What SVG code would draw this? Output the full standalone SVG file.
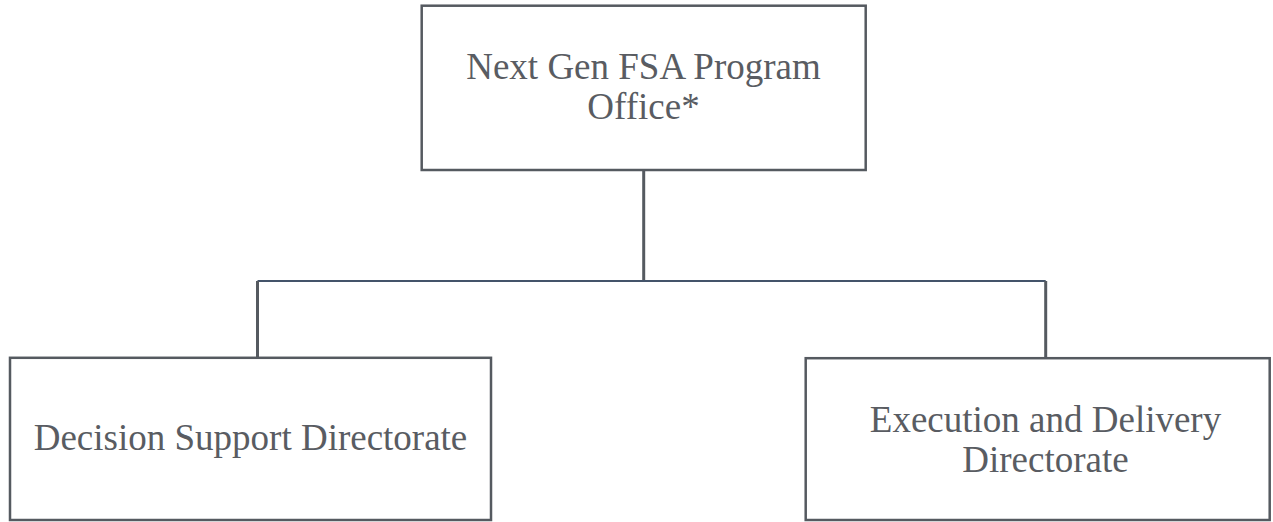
<svg xmlns="http://www.w3.org/2000/svg" width="1273" height="522" viewBox="0 0 1273 522">
<style>
.box{fill:#ffffff;stroke:#555a60;stroke-width:2.5}
.lbl{font-family:'Liberation Serif','Times New Roman',Times,Tinos,'Nimbus Roman','Nimbus Roman No9 L','Noto Serif','DejaVu Serif',serif;font-size:37px;fill:#595c62;text-anchor:middle}
.conn{fill:none;stroke:#555a60;stroke-width:3}
.bus{fill:none;stroke:#44546a;stroke-width:2}
</style>
<rect width="1273" height="522" fill="#ffffff"/>
<g id="connectors">
<line class="conn" x1="643.7" y1="170" x2="643.7" y2="281"/>
<line class="bus" x1="257.5" y1="281" x2="1045.7" y2="281"/>
<line class="conn" x1="257.5" y1="281" x2="257.5" y2="358"/>
<line class="conn" x1="1045.7" y1="281" x2="1045.7" y2="358"/>
</g>
<g id="node-top">
<rect class="box" x="421.7" y="5.7" width="444" height="164.3"/>
<text class="lbl" x="643.5" y="79">Next Gen FSA Program</text>
<text class="lbl" x="643.5" y="119">Office*</text>
</g>
<g id="node-decision">
<rect class="box" x="10" y="357.8" width="481" height="162.2"/>
<text class="lbl" x="250.5" y="450">Decision Support Directorate</text>
</g>
<g id="node-execution">
<rect class="box" x="805.7" y="358.2" width="464" height="161.8"/>
<text class="lbl" x="1045.5" y="431.7">Execution and Delivery</text>
<text class="lbl" x="1045.5" y="471.7">Directorate</text>
</g>
</svg>
